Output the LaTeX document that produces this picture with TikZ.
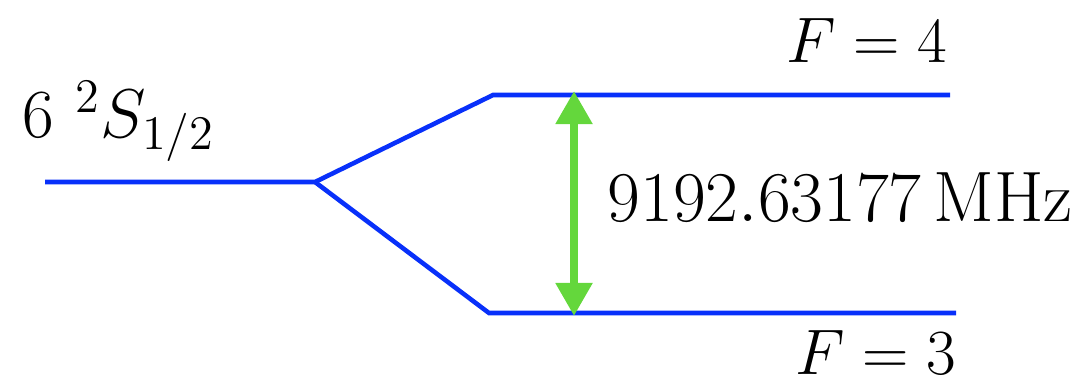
\RequirePackage{fix-cm}
\documentclass[tikz,border=0pt]{standalone}
\usetikzlibrary{arrows.meta}
\definecolor{levelblue}{RGB}{8,48,250}
\definecolor{transgreen}{RGB}{100,215,60}
\begin{document}
\begin{tikzpicture}[x=0.01cm,y=-0.01cm,
  level/.style={draw=levelblue,line width=1.3pt,line join=miter},
  lbl/.style={font=\fontsize{18.3}{22}\selectfont,inner sep=0pt},
  statelbl/.style={font=\fontsize{19.6}{24}\selectfont,inner sep=0pt},
  biglbl/.style={font=\fontsize{20.3}{24}\selectfont,inner sep=0pt},
  transition/.style={draw=transgreen,line width=2.3pt,
    {Triangle[width=0.35cm,length=0.33cm]}-{Triangle[width=0.35cm,length=0.33cm]}}]
\useasboundingbox (0,0) rectangle (1080,384);
% hyperfine splitting of the ground level
\coordinate (g0) at (45,182);
\coordinate (split) at (315,182);
\coordinate (u0) at (493,95);
\coordinate (u1) at (950,95);
\coordinate (l0) at (489,313);
\coordinate (l1) at (956,313);
\draw[level] (g0) -- (split) -- (u0) -- (u1);
\draw[level] (split) -- (l0) -- (l1);
% clock transition
\coordinate (ta) at (574,91);
\coordinate (tb) at (574,316);
\draw[transition] (ta) -- (tb);
% labels
\node[statelbl,anchor=base west] (gs) at (22,137) {$6\ {}^2S_{1/2}$};
\node[lbl,anchor=base] (f4) at (867,62) {$F=4$};
\node[lbl,anchor=base] (f3) at (876,374) {$F=3$};
\node[biglbl,anchor=base west] (freq) at (607,221) {$9192.63177\,\mathrm{MHz}$};
\end{tikzpicture}
\end{document}
